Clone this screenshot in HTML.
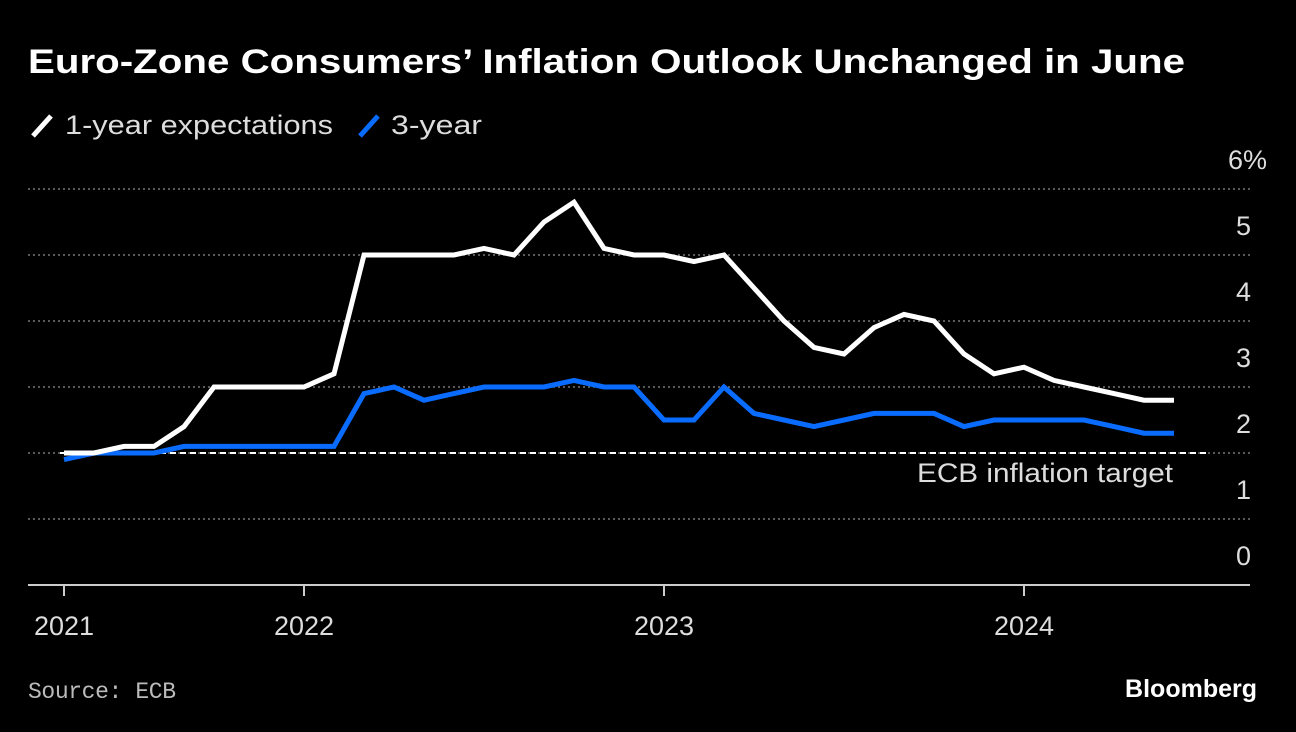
<!DOCTYPE html>
<html><head><meta charset="utf-8"><style>
body{margin:0;background:#000;width:1296px;height:732px;overflow:hidden;font-family:"Liberation Sans",sans-serif;color:#fff}
</style></head><body>
<svg width="1296" height="732" style="position:absolute;left:0;top:0">
<text x="28" y="73" font-size="34" font-weight="bold" fill="#fff" textLength="1157" lengthAdjust="spacingAndGlyphs">Euro-Zone Consumers’ Inflation Outlook Unchanged in June</text>
<g>
<line x1="33" y1="136" x2="51" y2="116" stroke="#fff" stroke-width="5"/>
<text x="65" y="134" font-size="27" fill="#ddd" textLength="268" lengthAdjust="spacingAndGlyphs">1-year expectations</text>
<line x1="360" y1="136" x2="378" y2="116" stroke="#0a6cff" stroke-width="5"/>
<text x="391" y="134" font-size="27" fill="#ddd" textLength="91" lengthAdjust="spacingAndGlyphs">3-year</text>
</g>
<g id="plot"></g>
<text x="28" y="698" font-size="23" fill="#bbb" font-family="Liberation Mono, monospace" textLength="148">Source: ECB</text>
<text x="1257" y="697" font-size="25" font-weight="bold" fill="#fff" text-anchor="end">Bloomberg</text>
</svg>
<script>
const yTicks=[0,1,2,3,4,5,6];
const yTickLabels=["0","1","2","3","4","5","6%"];
const xTickMonths=[0,8,20,32];
const xTickLabels=["2021","2022","2023","2024"];
const oneYear=[2.0,2.0,2.1,2.1,2.4,3.0,3.0,3.0,3.0,3.2,5.0,5.0,5.0,5.0,5.1,5.0,5.5,5.8,5.1,5.0,5.0,4.9,5.0,4.5,4.0,3.6,3.5,3.9,4.1,4.0,3.5,3.2,3.3,3.1,3.0,2.9,2.8,2.8];
const threeYear=[1.9,2.0,2.0,2.0,2.1,2.1,2.1,2.1,2.1,2.1,2.9,3.0,2.8,2.9,3.0,3.0,3.0,3.1,3.0,3.0,2.5,2.5,3.0,2.6,2.5,2.4,2.5,2.6,2.6,2.6,2.4,2.5,2.5,2.5,2.5,2.4,2.3,2.3];
const target=[2];
const NS="http://www.w3.org/2000/svg";
const g=document.getElementById('plot');
const x=i=>64+30*i, y=v=>585-66*v;
function mk(t,a){const e=document.createElementNS(NS,t);for(const k in a)e.setAttribute(k,a[k]);g.appendChild(e);return e;}
yTicks.forEach((v,i)=>{
 if(v>0){const l=mk('line',{x1:28,x2:1250,y1:y(v),y2:y(v),stroke:'#777','stroke-width':1.5,'stroke-dasharray':'2,3'});
 
 }
 const lab=yTickLabels[i];
 const t=mk('text',{x:lab.length>1?1267:1251,y:y(v)-20,'font-size':27,fill:'#ddd','text-anchor':'end'});t.textContent=lab;
 
 
});
const ax=mk('line',{x1:28,x2:1250,y1:585,y2:585,stroke:'#ccc','stroke-width':2});


xTickMonths.forEach((m,i)=>{
 const tk=mk('line',{x1:x(m),x2:x(m),y1:585,y2:596,stroke:'#ccc','stroke-width':2});
 
 
 const t=mk('text',{x:x(m),y:635,'font-size':27,fill:'#ddd','text-anchor':'middle'});t.textContent=xTickLabels[i];
 
 
});
const tl=mk('line',{x1:60,x2:1210,y1:y(target[0]),y2:y(target[0]),stroke:'#fff','stroke-width':2,'stroke-dasharray':'6,4'});


const tt=mk('text',{x:917,y:y(target[0])+29,'font-size':27,fill:'#ddd',textLength:256,lengthAdjust:'spacingAndGlyphs'});tt.textContent='ECB inflation target';


function line(d,c,n){const p=mk('polyline',{points:d.map((v,i)=>x(i)+','+y(v)).join(' '),fill:'none',stroke:c,'stroke-width':5,'stroke-linejoin':'miter'});
 
 }
line(threeYear,'#0a6cff','series-3-year');
line(oneYear,'#fff','series-1-year');
</script>
</body></html>
